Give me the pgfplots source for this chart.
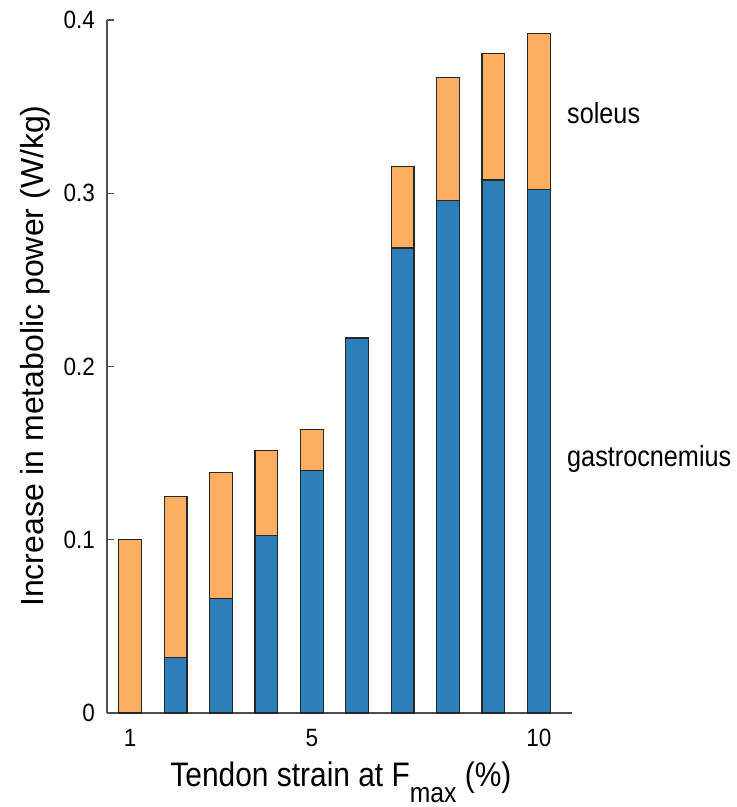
\documentclass[border=0pt]{standalone}
\usepackage{pgfplots}
\pgfplotsset{compat=1.18}
\usepackage{fontspec}
\setmainfont{Liberation Sans}
\newfontfamily\tickfont[FakeStretch=0.9]{Liberation Sans}
\newfontfamily\labfont[FakeStretch=0.88]{Liberation Sans}
\newfontfamily\sidefont[FakeStretch=0.87]{Liberation Sans}
\definecolor{gastro}{HTML}{2C7FB8}
\definecolor{soleus}{HTML}{FDAE61}
\definecolor{axgray}{HTML}{4D4D4D}
\begin{document}
\begin{tikzpicture}
\begin{axis}[
  name=ax,
  scale only axis,
  width=465pt, height=693pt,
  xmin=0.49, xmax=10.73,
  ymin=0, ymax=0.4,
  axis lines*=left,
  axis line style={axgray, line width=1.2pt},
  ybar stacked,
  bar width=0.5,
  xtick={1,5,10},
  xticklabels={1,5,10},
  ytick={0,0.1,0.2,0.3,0.4},
  yticklabels={0,0.1,0.2,0.3,0.4},
  tick align=inside,
  major tick length=7pt,
  tick style={axgray, line width=1.2pt},
  /pgf/number format/assume math mode=true,
  ticklabel style={font=\tickfont\fontsize{25}{30}\selectfont, inner sep=0pt},
  xticklabel style={anchor=base, yshift=-33pt},
  yticklabel style={anchor=east, xshift=-12pt},
  xlabel={\labfont\fontsize{34}{40}\selectfont Tendon strain at F\raisebox{-16pt}{\fontsize{28}{30}\selectfont max} (\%)},
  xlabel style={at={([yshift=-73pt]axis description cs:0.503,0)}, anchor=base, inner sep=0pt},
  ylabel={\fontsize{32}{38}\selectfont Increase in metabolic power (W/kg)},
  ylabel style={at={([xshift=-63pt]axis description cs:0,0.515)}, anchor=base, rotate=0, inner sep=0pt},
  clip=false,
]
\addplot[fill=gastro, draw=black!85, line width=1.2pt] coordinates {
  (1,0) (2,0.032) (3,0.0663) (4,0.1025) (5,0.140) (6,0.2164) (7,0.2684) (8,0.296) (9,0.3077) (10,0.302)
};
\addplot[fill=soleus, draw=black!85, line width=1.2pt] coordinates {
  (1,0.100) (2,0.093) (3,0.0723) (4,0.0488) (5,0.0238) (6,0) (7,0.047) (8,0.071) (9,0.0728) (10,0.090)
};
\node[anchor=base west, inner sep=0pt, font=\sidefont\fontsize{29}{34}\selectfont] at (axis cs:10.62,0.3403) {soleus};
\node[anchor=base west, inner sep=0pt, font=\sidefont\fontsize{29}{34}\selectfont] at (axis cs:10.62,0.1424) {gastrocnemius};
\end{axis}
\path ([xshift=-107pt,yshift=-94pt]ax.south west) rectangle ++(737pt,807pt);
\end{tikzpicture}
\end{document}
